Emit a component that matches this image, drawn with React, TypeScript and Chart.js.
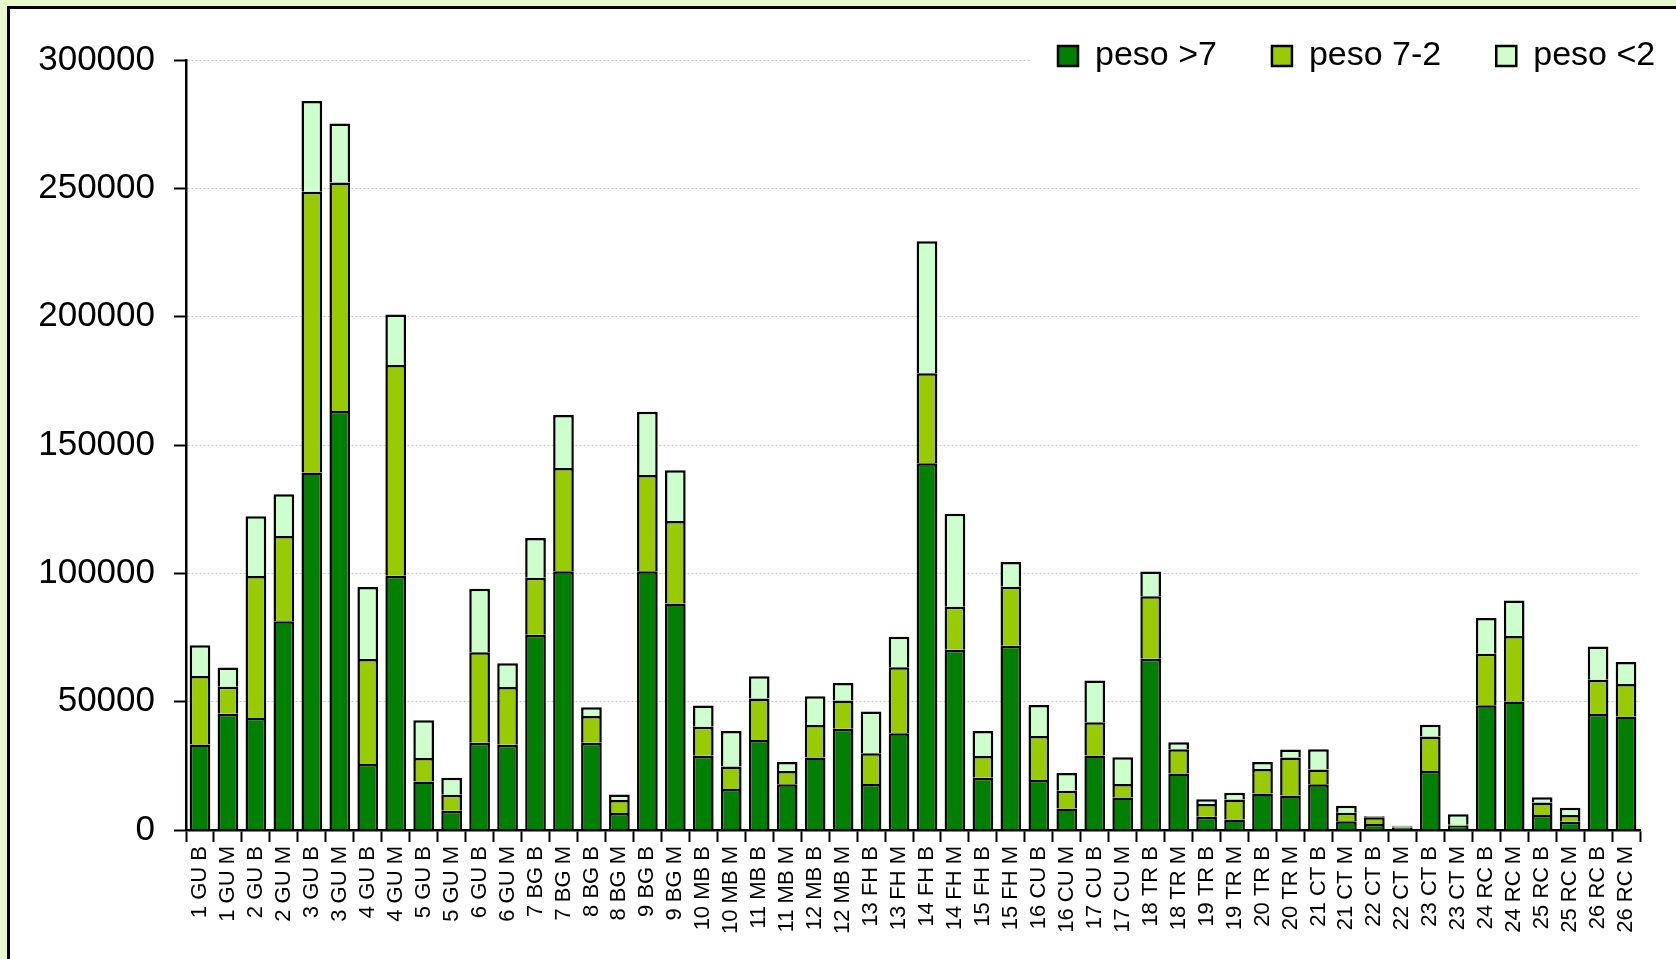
import React, { useEffect, useRef } from "react";
import { Chart, registerables } from "chart.js";

Chart.register(...registerables);

const categories = [
  "1 GU B", "1 GU M", "2 GU B", "2 GU M", "3 GU B", "3 GU M", "4 GU B", "4 GU M",
  "5 GU B", "5 GU M", "6 GU B", "6 GU M", "7 BG B", "7 BG M", "8 BG B", "8 BG M",
  "9 BG B", "9 BG M", "10 MB B", "10 MB M", "11 MB B", "11 MB M", "12 MB B", "12 MB M",
  "13 FH B", "13 FH M", "14 FH B", "14 FH M", "15 FH B", "15 FH M", "16 CU B", "16 CU M",
  "17 CU B", "17 CU M", "18 TR B", "18 TR M", "19 TR B", "19 TR M", "20 TR B", "20 TR M",
  "21 CT B", "21 CT M", "22 CT B", "22 CT M", "23 CT B", "23 CT M", "24 RC B", "24 RC M",
  "25 RC B", "25 RC M", "26 RC B", "26 RC M",
];

const pesoOver7 = [
  33300, 45300, 43600, 81300, 139300, 163200, 25700, 99100,
  18900, 7500, 34000, 33200, 76100, 100800, 34000, 6600,
  100800, 88200, 28900, 16000, 35100, 17800, 28200, 39400,
  17900, 37700, 142900, 70200, 20400, 71800, 19500, 8400,
  29000, 12700, 66700, 22000, 5200, 4100, 14200, 13400,
  17800, 3400, 2300, 1000, 23000, 1700, 48600, 50100,
  5800, 3200, 45200, 44200,
];

const peso7to2 = [
  26700, 10500, 55400, 33200, 109400, 89100, 40900, 82100,
  9200, 6200, 35300, 22500, 22200, 40200, 10400, 5100,
  37500, 32200, 11300, 8700, 16100, 5200, 12700, 11100,
  12000, 25700, 35100, 16800, 8400, 23000, 17100, 6900,
  13000, 5200, 24400, 9500, 4900, 7800, 9600, 14800,
  5800, 3300, 2700, 400, 13400, 300, 20100, 25500,
  4900, 2600, 13300, 12700,
];

const pesoUnder2 = [
  12000, 7500, 23200, 16300, 35300, 23000, 28100, 19600,
  14700, 6700, 24700, 9300, 15500, 20700, 3400, 2100,
  24700, 19800, 8300, 13900, 8700, 3500, 11200, 6800,
  16300, 11900, 51400, 36200, 9800, 9600, 12100, 6900,
  16200, 10400, 9600, 2700, 1900, 2600, 2700, 3200,
  7900, 2700, 400, 300, 4600, 4100, 13900, 13800,
  2100, 2900, 13000, 8600,
];

const seriesLabels = ["peso >7", "peso 7-2", "peso <2"];
const yTicksMax = 300000;
const yTickStep = 50000;

const FONT = "'Liberation Sans', Arial, Helvetica, sans-serif";

export default function App() {
  const canvasRef = useRef<HTMLCanvasElement | null>(null);

  useEffect(() => {
    const canvas = canvasRef.current;
    if (!canvas) return;

    const legendPlace = {
      id: "legendPlace",
      afterLayout(chart: any) {
        const lg = chart.legend;
        if (!lg) return;
        const pad = 55;
        lg.left = 1058 - pad;
        lg.right = 1900;
        lg.width = lg.right - lg.left;
        lg.top = 56 - pad - 17;
        lg.height = 140;
        lg.bottom = lg.top + lg.height;
      },
      beforeDatasetsDraw(chart: any) {
        const ctx = chart.ctx;
        ctx.save();
        ctx.fillStyle = "#ffffff";
        ctx.fillRect(1030, 36, 700, 42);
        ctx.restore();
        if (chart.legend) chart.legend.draw();
      },
    };

    const common = {
      borderColor: "#000000",
      borderWidth: 2.5,
      barPercentage: 0.74,
      categoryPercentage: 1,
    };

    const chart = new Chart(canvas, {
      type: "bar",
      data: {
        labels: categories,
        datasets: [
          { label: seriesLabels[0], data: pesoOver7, backgroundColor: "#008000", ...common },
          { label: seriesLabels[1], data: peso7to2, backgroundColor: "#99CC00", ...common },
          { label: seriesLabels[2], data: pesoUnder2, backgroundColor: "#CCFFCC", ...common },
        ],
      },
      options: {
        responsive: false,
        devicePixelRatio: 1,
        animation: false,
        layout: { padding: { left: 0, right: 36, top: 59, bottom: 0 } },
        plugins: {
          legend: {
            position: "top",
            align: "start",
            maxHeight: 1,
            labels: {
              boxWidth: 20,
              boxHeight: 20,
              padding: 55,
              color: "#000000",
              font: { size: 34, family: FONT },
            },
          },
          tooltip: { enabled: false },
        },
        scales: {
          x: {
            stacked: true,
            grid: {
              offset: true,
              drawOnChartArea: false,
              tickLength: 12,
              tickColor: "#000000",
              tickWidth: 2,
            },
            border: { color: "#000000", width: 2.5 },
            ticks: {
              autoSkip: false,
              minRotation: 90,
              maxRotation: 90,
              padding: 4,
              color: "#000000",
              font: { size: 22, family: FONT },
            },
            afterFit: (s: any) => {
              s.height = 129;
            },
          },
          y: {
            stacked: true,
            min: 0,
            max: yTicksMax,
            ticks: {
              stepSize: yTickStep,
              padding: 19,
              color: "#000000",
              font: { size: 35, family: FONT },
              callback: (v: any) => String(v),
            },
            grid: {
              color: "#C4C4C4",
              lineWidth: 1,
              tickLength: 12,
              tickColor: "#000000",
              tickWidth: 2,
            },
            border: { color: "#000000", width: 2.5, dash: [2, 2] },
            afterFit: (s: any) => {
              s.width = 186;
            },
          },
        },
      },
      plugins: [legendPlace],
    } as any);

    return () => chart.destroy();
  }, []);

  return (
    <div style={{ position: "fixed", left: 0, top: 0, width: 1676, height: 959, background: "#E8F9CC", overflow: "hidden" }}>
      <div
        style={{
          position: "absolute",
          left: 7,
          top: 6,
          width: 1720,
          height: 1000,
          background: "#ffffff",
          border: "3px solid #000000",
          boxSizing: "border-box",
        }}
      />
      <canvas
        ref={canvasRef}
        width={1676}
        height={959}
        style={{ position: "absolute", left: 0, top: 0, width: 1676, height: 959 }}
      />
    </div>
  );
}
